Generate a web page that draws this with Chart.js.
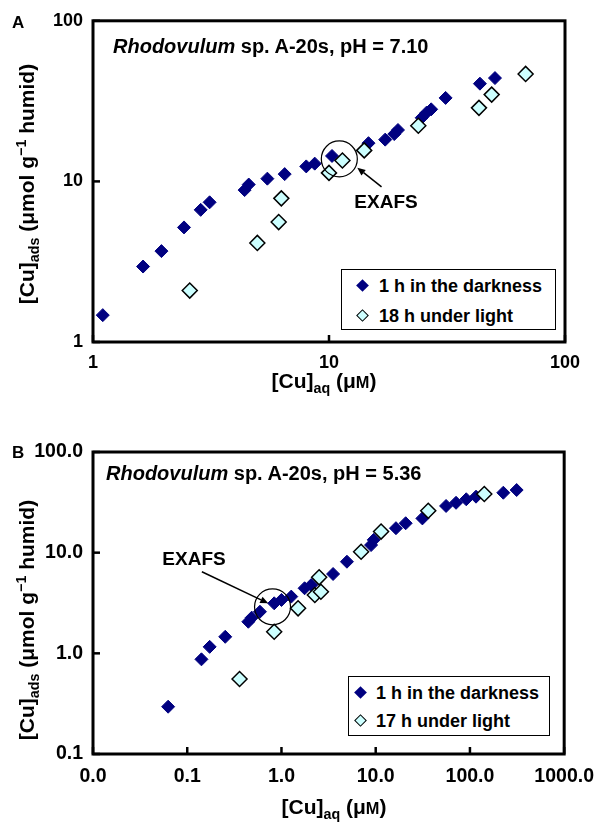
<!DOCTYPE html>
<html>
<head>
<meta charset="utf-8">
<script src="https://cdn.jsdelivr.net/npm/chart.js@4"></script>
<style>
body { margin:0; width:605px; height:823px; background:#fff; position:relative; overflow:hidden;
  font-family:"Liberation Sans", Arial, sans-serif; font-weight:bold; color:#000; }
.panel { position:absolute; left:0; width:605px; }
.txt { position:absolute; white-space:nowrap; }
sub, sup { line-height:0; font-size:0.68em; }
.title { font-size:20px; line-height:22px; }
.letter { font-size:17px; line-height:17px; }
.axt { font-size:21px; line-height:24px; text-align:center; }
.note { font-size:19px; line-height:20px; width:100px; text-align:center; }
.legend { position:absolute; border:1px solid #000; background:#fff; box-sizing:border-box; }
.legend .row { position:absolute; font-size:18px; line-height:20px; white-space:nowrap; }
.mk { position:absolute; width:9px; height:9px; transform:rotate(45deg); box-sizing:border-box; }
.dk { background:#000080; }
.lt { background:#ccffff; border:1.3px solid #000; }
</style>
</head>
<body>
<div class="panel" style="top:0;height:400px"><canvas id="chartA" width="605" height="400"></canvas></div>
<div class="panel" style="top:420px;height:403px"><canvas id="chartB" width="605" height="403"></canvas></div>

<div class="txt letter" style="left:12px;top:14px">A</div>
<div class="txt title" style="left:113px;top:35px"><i>Rhodovulum</i> sp. A-20s, pH = 7.10</div>
<div class="txt note" style="left:336px;top:192px">EXAFS</div>
<div class="txt axt" style="left:174px;top:369px;width:300px">[Cu]<sub>aq</sub> (μ<span style="font-size:0.78em">M</span>)</div>
<div class="txt axt" style="left:-123px;top:172px;width:300px;transform:rotate(-90deg)">[Cu]<sub>ads</sub> (μmol g<sup>−1</sup> humid)</div>
<div class="legend" style="left:341px;top:269px;width:215px;height:61px">
  <div class="mk dk" style="left:16px;top:11px"></div>
  <div class="row" style="left:37px;top:6px">1 h in the darkness</div>
  <div class="mk lt" style="left:16px;top:41px"></div>
  <div class="row" style="left:37px;top:36px">18 h under light</div>
</div>

<div class="txt letter" style="left:12px;top:444px">B</div>
<div class="txt title" style="left:106px;top:462px"><i>Rhodovulum</i> sp. A-20s, pH = 5.36</div>
<div class="txt note" style="left:144px;top:549px">EXAFS</div>
<div class="txt axt" style="left:184px;top:795px;width:300px">[Cu]<sub>aq</sub> (μ<span style="font-size:0.78em">M</span>)</div>
<div class="txt axt" style="left:-123px;top:608px;width:300px;transform:rotate(-90deg)">[Cu]<sub>ads</sub> (μmol g<sup>−1</sup> humid)</div>
<div class="legend" style="left:348px;top:676px;width:202px;height:60px">
  <div class="mk dk" style="left:7px;top:11px"></div>
  <div class="row" style="left:27px;top:6px">1 h in the darkness</div>
  <div class="mk lt" style="left:7px;top:39px"></div>
  <div class="row" style="left:27px;top:34px">17 h under light</div>
</div>

<script>
// panel A, pH 7.10
const xDarkA = [1.10, 1.63, 1.95, 2.43, 2.86, 3.12, 4.39, 4.57, 5.48, 6.49, 8.01, 8.70, 10.3, 14.7, 17.3, 18.9, 19.6, 24.7, 25.9, 27.1, 31.2, 43.6, 50.5]
const yDarkA = [1.47, 2.95, 3.68, 5.17, 6.65, 7.41, 8.83, 9.56, 10.4, 11.1, 12.4, 12.9, 14.4, 17.3, 18.2, 19.7, 20.9, 24.9, 26.8, 28.1, 33.1, 40.6, 44.0]
const xLightA = [2.57, 4.97, 6.12, 6.28, 10.0, 11.4, 14.1, 23.9, 43.2, 48.9, 68.1]
const yLightA = [2.09, 4.14, 5.58, 7.84, 11.3, 13.5, 15.6, 22.2, 28.7, 34.7, 46.7]
const xTicksA = [1, 10, 100]
const yTicksA = [1, 10, 100]

// panel B, pH 5.36
const xDarkB = [0.0627, 0.1415, 0.173, 0.253, 0.445, 0.483, 0.591, 0.837, 1.00, 1.27, 1.76, 2.07, 3.53, 4.95, 8.93, 9.53, 16.4, 20.8, 31.3, 55.8, 71.2, 91.4, 116, 226, 313]
const yDarkB = [0.295, 0.872, 1.16, 1.46, 2.06, 2.26, 2.59, 3.14, 3.39, 3.66, 4.43, 4.77, 6.14, 8.13, 11.9, 13.4, 17.5, 19.6, 21.9, 29.1, 31.3, 33.9, 36.0, 39.4, 41.9]
const xLightB = [0.359, 0.837, 1.50, 2.26, 2.62, 2.51, 7.0, 11.4, 36.1, 142]
const yLightB = [0.556, 1.64, 2.80, 3.80, 4.09, 5.69, 10.2, 16.2, 26.1, 38.3]
const xTicksB = [0.01, 0.1, 1, 10, 100, 1000]
const yTicksB = [0.1, 1, 10, 100]

Chart.defaults.font.family = '"Liberation Sans", Arial, sans-serif'
Chart.defaults.color = '#000'

function toPoints(xs, ys) {
    return xs.map((x, i) => ({x: x, y: ys[i]}))
}

// box, inward tick marks, EXAFS circle + arrow
const framePlugin = {
    id: 'frame',
    beforeDatasetsDraw(chart) {
        const {ctx, chartArea: a, scales} = chart
        ctx.save()
        ctx.strokeStyle = '#000'
        ctx.lineWidth = 2.5
        scales.x.ticks.forEach(t => {
            const px = scales.x.getPixelForValue(t.value)
            ctx.beginPath(); ctx.moveTo(px, a.bottom); ctx.lineTo(px, a.bottom - 7); ctx.stroke()
        })
        scales.y.ticks.forEach(t => {
            const py = scales.y.getPixelForValue(t.value)
            ctx.beginPath(); ctx.moveTo(a.left, py); ctx.lineTo(a.left + 7, py); ctx.stroke()
        })
        ctx.lineWidth = 3
        ctx.strokeRect(a.left, a.top, a.right - a.left, a.bottom - a.top)
        ctx.restore()
    },
    afterDatasetsDraw(chart, args, opts) {
        const {ctx, scales} = chart
        const cx = scales.x.getPixelForValue(opts.circle[0])
        const cy = scales.y.getPixelForValue(opts.circle[1])
        const x0 = scales.x.getPixelForValue(opts.from[0])
        const y0 = scales.y.getPixelForValue(opts.from[1])
        const x1 = scales.x.getPixelForValue(opts.to[0])
        const y1 = scales.y.getPixelForValue(opts.to[1])
        ctx.save()
        ctx.strokeStyle = '#000'
        ctx.fillStyle = '#000'
        ctx.lineWidth = 1.2
        ctx.beginPath(); ctx.arc(cx, cy, opts.r, 0, Math.PI * 2); ctx.stroke()
        const ang = Math.atan2(y1 - y0, x1 - x0)
        const hl = 8, hw = 3.5
        ctx.lineWidth = 1.5
        ctx.beginPath(); ctx.moveTo(x0, y0)
        ctx.lineTo(x1 - Math.cos(ang) * hl, y1 - Math.sin(ang) * hl); ctx.stroke()
        ctx.beginPath()
        ctx.moveTo(x1, y1)
        ctx.lineTo(x1 - Math.cos(ang) * hl - Math.sin(ang) * hw, y1 - Math.sin(ang) * hl + Math.cos(ang) * hw)
        ctx.lineTo(x1 - Math.cos(ang) * hl + Math.sin(ang) * hw, y1 - Math.sin(ang) * hl - Math.cos(ang) * hw)
        ctx.closePath(); ctx.fill()
        ctx.restore()
    }
}

function scatterChart(element, cfg) {
    return new Chart(element, {
        type: 'scatter',
        plugins: [framePlugin],
        data: {
            datasets: [
                {
                    label: '1 h in the darkness',
                    data: toPoints(cfg.xDark, cfg.yDark),
                    pointStyle: 'rectRot',
                    pointRadius: 6.5,
                    backgroundColor: '#000080',
                    borderColor: '#000080',
                    borderWidth: 1,
                    order: 2,
                    clip: false
                },
                {
                    label: cfg.lightLabel,
                    data: toPoints(cfg.xLight, cfg.yLight),
                    pointStyle: 'rectRot',
                    pointRadius: 7.5,
                    backgroundColor: '#ccffff',
                    borderColor: '#000',
                    borderWidth: 1.5,
                    order: 1,
                    clip: false
                }
            ]
        },
        options: {
            responsive: false,
            animation: false,
            events: [],
            layout: {padding: {top: cfg.top, right: cfg.right, left: 0, bottom: 0}},
            plugins: {
                legend: {display: false},
                tooltip: {enabled: false},
                frame: cfg.exafs
            },
            scales: {
                x: {
                    type: 'logarithmic',
                    min: cfg.xTicks[0],
                    max: cfg.xTicks[cfg.xTicks.length - 1],
                    grid: {display: false, drawTicks: false},
                    border: {display: false},
                    ticks: {
                        autoSkip: false, maxRotation: 0, padding: cfg.xPad,
                        font: {size: cfg.tickSize, weight: 'bold'},
                        callback: cfg.fmt
                    },
                    afterBuildTicks: s => { s.ticks = cfg.xTicks.map(v => ({value: v})) },
                    afterFit: s => { s.height = cfg.xHeight }
                },
                y: {
                    type: 'logarithmic',
                    min: cfg.yTicks[0],
                    max: cfg.yTicks[cfg.yTicks.length - 1],
                    grid: {display: false, drawTicks: false},
                    border: {display: false},
                    ticks: {
                        autoSkip: false, padding: 10,
                        font: {size: cfg.tickSize, weight: 'bold'},
                        callback: cfg.fmt
                    },
                    afterBuildTicks: s => { s.ticks = cfg.yTicks.map(v => ({value: v})) },
                    afterFit: s => { s.width = 93 }
                }
            }
        }
    })
}

scatterChart(document.getElementById('chartA'), {
    xDark: xDarkA, yDark: yDarkA, xLight: xLightA, yLight: yLightA,
    xTicks: xTicksA, yTicks: yTicksA,
    lightLabel: '18 h under light',
    top: 17, right: 40, xHeight: 58, xPad: 10, tickSize: 18,
    fmt: v => String(v),
    exafs: {circle: [11.06, 13.8], r: 18, from: [16.7, 9.25], to: [13.18, 12.16]}
})

scatterChart(document.getElementById('chartB'), {
    xDark: xDarkB, yDark: yDarkB, xLight: xLightB, yLight: yLightB,
    xTicks: xTicksB, yTicks: yTicksB,
    lightLabel: '17 h under light',
    top: 32, right: 37, xHeight: 69, xPad: 11, tickSize: 19.5,
    fmt: v => Number(v).toFixed(1),
    exafs: {circle: [0.804, 2.90], r: 18, from: [0.143, 6.47], to: [0.724, 3.14]}
})
</script>
</body>
</html>
